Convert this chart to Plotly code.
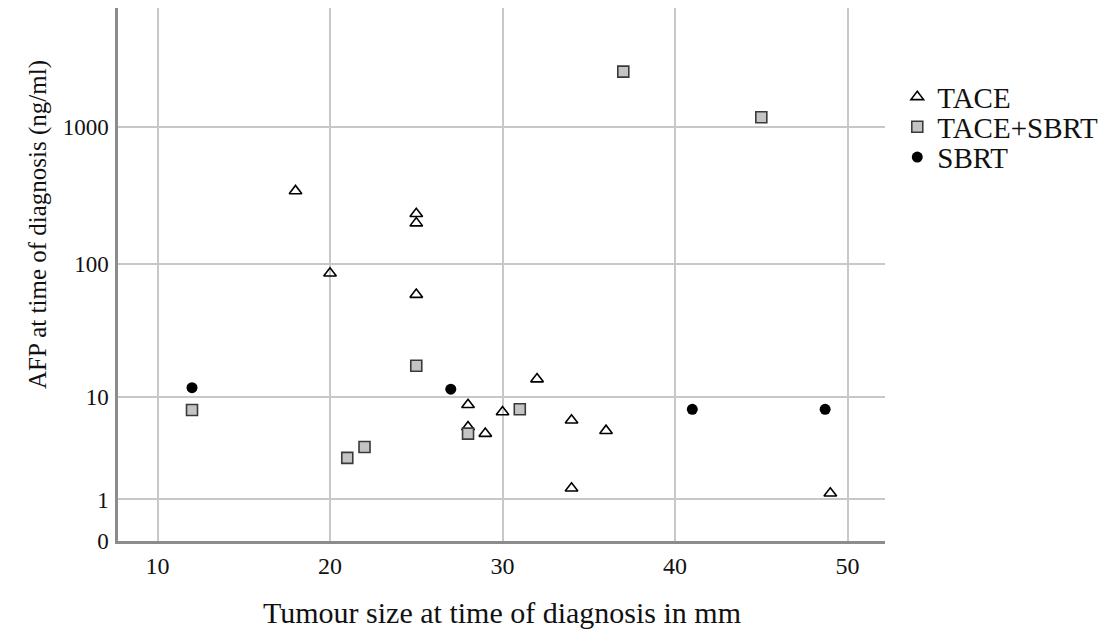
import numpy as np
import plotly.graph_objects as go

# Data (tumour size mm, AFP ng/ml)
tace_x = [18, 25, 25, 20, 25, 28, 28, 29, 30, 32, 34, 36, 34, 49]
tace_y = [343, 234, 200, 86, 60, 8.7, 5.7, 5.0, 7.6, 13.9, 6.5, 5.3, 1.41, 1.22]
combo_x = [12, 25, 21, 22, 28, 31, 37, 45]
combo_y = [7.9, 17.6, 3.0, 3.8, 5.0, 8.0, 2517, 1175]
sbrt_x = [12, 27, 41, 48.7]
sbrt_y = [11.9, 11.6, 8.0, 8.0]

y_ticks = [0, 1, 10, 100, 1000]
x_ticks = [10, 20, 30, 40, 50]


def tr(v):
    # SPSS-style safe log scale: log10(v + 1)
    return list(np.log10(np.asarray(v, dtype=float) + 1))


FONT = "Times New Roman, Liberation Serif, serif"
TXT = "#111111"

fig = go.Figure()
fig.add_trace(go.Scatter(
    x=tace_x, y=tr(tace_y), mode="markers", name="TACE", legend="legend",
    marker=dict(symbol="triangle-up-open", size=11, color="black",
                line=dict(width=1.6, color="black"))))
fig.add_trace(go.Scatter(
    x=combo_x, y=tr(combo_y), mode="markers", name="TACE+SBRT", legend="legend2",
    marker=dict(symbol="square", size=11, color="#c4c4c4",
                line=dict(width=1.6, color="#3a3a3a"))))
fig.add_trace(go.Scatter(
    x=sbrt_x, y=tr(sbrt_y), mode="markers", name="SBRT", legend="legend3",
    marker=dict(symbol="circle", size=11, color="black",
                line=dict(width=0, color="black"))))

leg_common = dict(x=1.016, xanchor="left", yanchor="middle",
                  font=dict(family=FONT, size=29, color=TXT),
                  itemwidth=30, bgcolor="rgba(0,0,0,0)")

fig.update_layout(
    width=1110, height=632,
    margin=dict(l=110, r=233, t=0, b=99),
    paper_bgcolor="white", plot_bgcolor="white",
    font=dict(family=FONT, color=TXT),
    showlegend=True,
    legend=dict(y=0.833, **leg_common),
    legend2=dict(y=0.777, **leg_common),
    legend3=dict(y=0.720, **leg_common),
    xaxis=dict(
        range=[7.71, 52.17], tickvals=x_ticks, ticktext=[str(t) for t in x_ticks],
        showgrid=True, gridcolor="#c8c8c8", gridwidth=1.5,
        showline=True, linecolor="#8c8c8c", linewidth=2.5,
        zeroline=False, ticks="", ticklabelstandoff=1,
        tickfont=dict(family=FONT, size=24, color=TXT),
    ),
    yaxis=dict(
        range=[0, 3.862], tickvals=tr(y_ticks), ticktext=[str(t) for t in y_ticks],
        showgrid=True, gridcolor="#c8c8c8", gridwidth=1.5,
        showline=True, linecolor="#8c8c8c", linewidth=2.5,
        zeroline=False, ticks="", ticklabelstandoff=2,
        tickfont=dict(family=FONT, size=23, color=TXT),
    ),
    annotations=[
        dict(text="AFP at time of diagnosis (ng/ml)", textangle=-90,
             xref="paper", yref="paper", x=0, y=0.593, xshift=-80,
             xanchor="center", yanchor="middle", showarrow=False,
             font=dict(family=FONT, size=25, color=TXT)),
        dict(text="Tumour size at time of diagnosis in mm",
             xref="paper", yref="paper", x=0.5, y=0, yshift=-71,
             xanchor="center", yanchor="middle", showarrow=False,
             font=dict(family=FONT, size=30, color=TXT)),
    ],
)

fig.write_html("out.html")
